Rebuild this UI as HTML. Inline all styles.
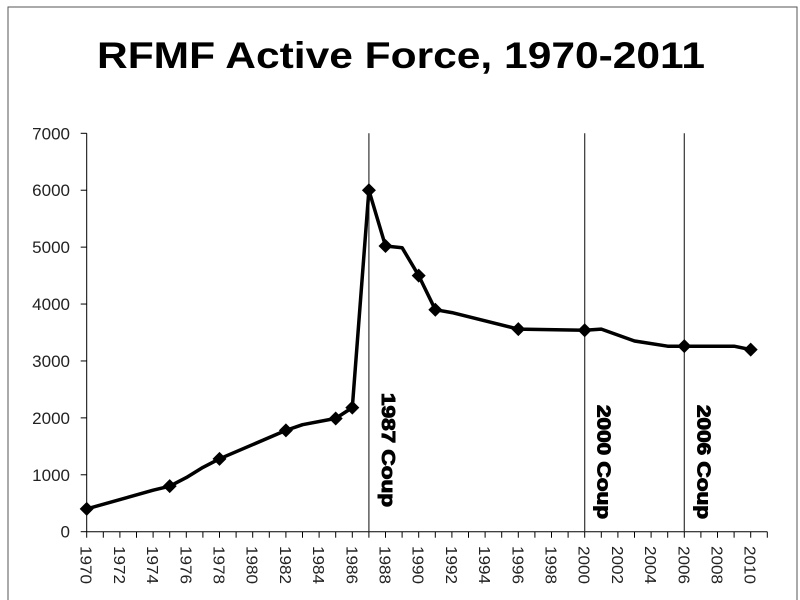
<!DOCTYPE html>
<html><head><meta charset="utf-8"><style>
body{margin:0;background:#fff;}
svg{display:block;font-family:"Liberation Sans",Arial,sans-serif;}
</style></head><body>
<svg id="chart" width="800" height="600">
<rect x="8" y="7" width="789" height="600" fill="#fff" stroke="#555" stroke-width="1"/>
<text x="401" y="68" text-anchor="middle" font-size="37" font-weight="bold" textLength="608" lengthAdjust="spacingAndGlyphs">RFMF Active Force, 1970-2011</text>
</svg>
<script>
const lineYears=[1970,1974,1975,1976,1977,1978,1982,1983,1985,1986,1987,1988,1989,1990,1991,1992,1996,2000,2001,2003,2005,2006,2009,2010];
const lineValues=[400,730,800,950,1130,1280,1780,1880,1990,2180,6000,5020,4990,4500,3900,3850,3560,3540,3560,3350,3260,3260,3260,3200];
const markerYears=[1970,1975,1978,1982,1985,1986,1987,1988,1990,1991,1996,2000,2006,2010];
const coupYears=[1987,2000,2006];
const coupLabels=["1987 Coup","2000 Coup","2006 Coup"];
const yTicks=[0,1000,2000,3000,4000,5000,6000,7000];
const xLabelYears=[1970,1972,1974,1976,1978,1980,1982,1984,1986,1988,1990,1992,1994,1996,1998,2000,2002,2004,2006,2008,2010];

const NS="http://www.w3.org/2000/svg";
const svg=document.getElementById('chart');
const X0=86.7,XS=16.6,Y0=531.7,YS=398.4/7000;
const x=yr=>X0+(yr-1970)*XS;
const y=v=>Y0-v*YS;
function mk(tag,attrs,parent){const e=document.createElementNS(NS,tag);for(const k in attrs)e.setAttribute(k,attrs[k]);(parent||svg).appendChild(e);return e;}

let ax=mk('line',{x1:X0,y1:y(7000),x2:X0,y2:Y0,stroke:'#000','stroke-width':1});


let bx=mk('line',{x1:X0,y1:Y0,x2:x(2011),y2:Y0,stroke:'#000','stroke-width':1});



yTicks.forEach(t=>{
  let tk=mk('line',{x1:X0-6,y1:y(t),x2:X0,y2:y(t),stroke:'#000'});
  
  
  let tx=mk('text',{x:70,y:y(t)+6,'text-anchor':'end','font-size':17,fill:'#222'});
  tx.textContent=t;
  
  
});
for(let yr=1970;yr<=2011;yr++){
  let tk=mk('line',{x1:x(yr),y1:Y0,x2:x(yr),y2:Y0+6,stroke:'#000'});
  
  
}
xLabelYears.forEach(yr=>{
  let tx=mk('text',{x:0,y:0,'font-size':16,fill:'#222',transform:`translate(${x(yr)-6},546) rotate(90)`,textLength:38,lengthAdjust:'spacingAndGlyphs'});
  tx.textContent=yr;
  
  
});

coupYears.forEach((yr,i)=>{
  let l=mk('line',{x1:x(yr),y1:y(7000),x2:x(yr),y2:Y0,stroke:'#333','stroke-width':1.2});
  
  
  let t=mk('text',{x:0,y:0,'font-size':18,'font-weight':'bold',fill:'#000',stroke:'#000','stroke-width':1,transform:`translate(${x(yr)+13},${i==0?393:405}) rotate(90)`,textLength:114,lengthAdjust:'spacingAndGlyphs'});
  t.textContent=coupLabels[i];
  
  
});

let pts=lineYears.map((yr,i)=>x(yr).toFixed(1)+','+y(lineValues[i]).toFixed(1)).join(' ');
let pl=mk('polyline',{points:pts,fill:'none',stroke:'#000','stroke-width':3.5,'stroke-linejoin':'round'});


markerYears.forEach(yr=>{
  const v=lineValues[lineYears.indexOf(yr)];
  const cx=x(yr),cy=y(v),r=7;
  let m=mk('polygon',{points:`${cx},${cy-r} ${cx+r},${cy} ${cx},${cy+r} ${cx-r},${cy}`,fill:'#000'});
  
  
});
</script>
</body></html>
